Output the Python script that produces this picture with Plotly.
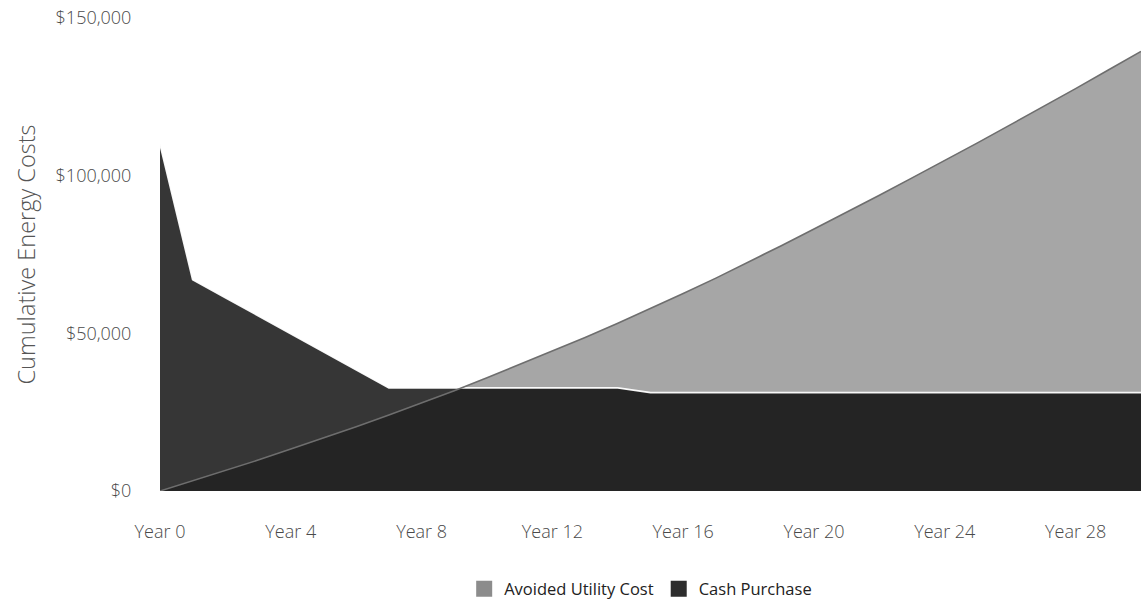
import plotly.graph_objects as go

years = list(range(0, 31))
tick_years = [0, 4, 8, 12, 16, 20, 24, 28]
tick_labels = ["Year 0", "Year 4", "Year 8", "Year 12", "Year 16", "Year 20", "Year 24", "Year 28"]

avoided_utility_cost = [
    0, 3200, 6500, 9800, 13300, 16800, 20400, 24100, 27900, 31800,
    35900, 40100, 44400, 48700, 53200, 57800, 62600, 67500, 72600, 77800,
    83100, 88400, 93800, 99300, 104800, 110400, 116100, 121800, 127600, 133500,
    139400,
]
cash_purchase = [
    110000, 67000, 61300, 55600, 49900, 44200, 38500, 32700, 32700, 32700,
    32700, 32700, 32700, 32700, 32700, 31200, 31200, 31200, 31200, 31200,
    31200, 31200, 31200, 31200, 31200, 31200, 31200, 31200, 31200, 31200,
    31200,
]

y_ticks = [0, 50000, 100000, 150000]
y_tick_labels = ["$0", "$50,000", "$100,000", "$150,000"]

AVOID_FILL = "rgb(166,166,166)"
CASH_FILL = "rgba(4,4,4,0.80)"
TEXT = "#4a4a4a"
FONT = "Open Sans"

fig = go.Figure()

# Avoided Utility Cost area (fill only)
fig.add_trace(go.Scatter(
    x=years, y=avoided_utility_cost, mode="lines", fill="tozeroy",
    fillcolor=AVOID_FILL, line=dict(width=0, color=AVOID_FILL),
    showlegend=False, hoverinfo="skip",
))
# Cash Purchase area on top
fig.add_trace(go.Scatter(
    x=years, y=cash_purchase, mode="lines", fill="tozeroy",
    fillcolor=CASH_FILL, line=dict(width=1.8, color="rgba(255,255,255,0.95)"),
    showlegend=False, hoverinfo="skip",
))
# Avoided Utility Cost line drawn over both areas
fig.add_trace(go.Scatter(
    x=years, y=avoided_utility_cost, mode="lines",
    line=dict(width=1.6, color="rgb(110,110,110)"),
    showlegend=False, hoverinfo="skip",
))

# Legend entries with square swatches
fig.add_trace(go.Scatter(
    x=[None], y=[None], mode="markers", name="Avoided Utility Cost",
    marker=dict(symbol="square", size=16, color="rgb(140,140,140)"),
))
fig.add_trace(go.Scatter(
    x=[None], y=[None], mode="markers", name="Cash Purchase",
    marker=dict(symbol="square", size=16, color="rgb(45,45,45)"),
))

fig.update_layout(
    width=1141, height=613,
    margin=dict(l=160, r=0, t=18, b=122, autoexpand=False),
    paper_bgcolor="white", plot_bgcolor="white",
    font=dict(family=FONT, color=TEXT, size=18),
    legend=dict(
        orientation="h", x=0.49, xanchor="center", y=-0.207, yanchor="middle",
        font=dict(family=FONT, size=16.5, color="#222"),
        itemwidth=30, traceorder="normal",
    ),
)
fig.update_xaxes(
    range=[0, 30], tickmode="array", tickvals=tick_years, ticktext=tick_labels,
    showgrid=False, zeroline=False, showline=False,
    ticks="outside", ticklen=24, tickcolor="rgba(0,0,0,0)",
    ticklabeloverflow="allow",
    tickfont=dict(family=FONT, size=18, color=TEXT, weight=300),
)
fig.update_yaxes(
    range=[0, 150000], tickmode="array", tickvals=y_ticks, ticktext=y_tick_labels,
    showgrid=False, zeroline=False, showline=False,
    ticks="outside", ticklen=24, tickcolor="rgba(0,0,0,0)",
    ticklabeloverflow="allow",
    tickfont=dict(family=FONT, size=18, color=TEXT, weight=300),
    title=dict(text="Cumulative Energy Costs", standoff=13,
               font=dict(family=FONT, size=23.5, color="#555", weight=300)),
)

fig.write_html(
    "out.html",
    config={"displayModeBar": False},
    post_script="document.body.style.margin='0';document.body.style.overflow='hidden';",
)
